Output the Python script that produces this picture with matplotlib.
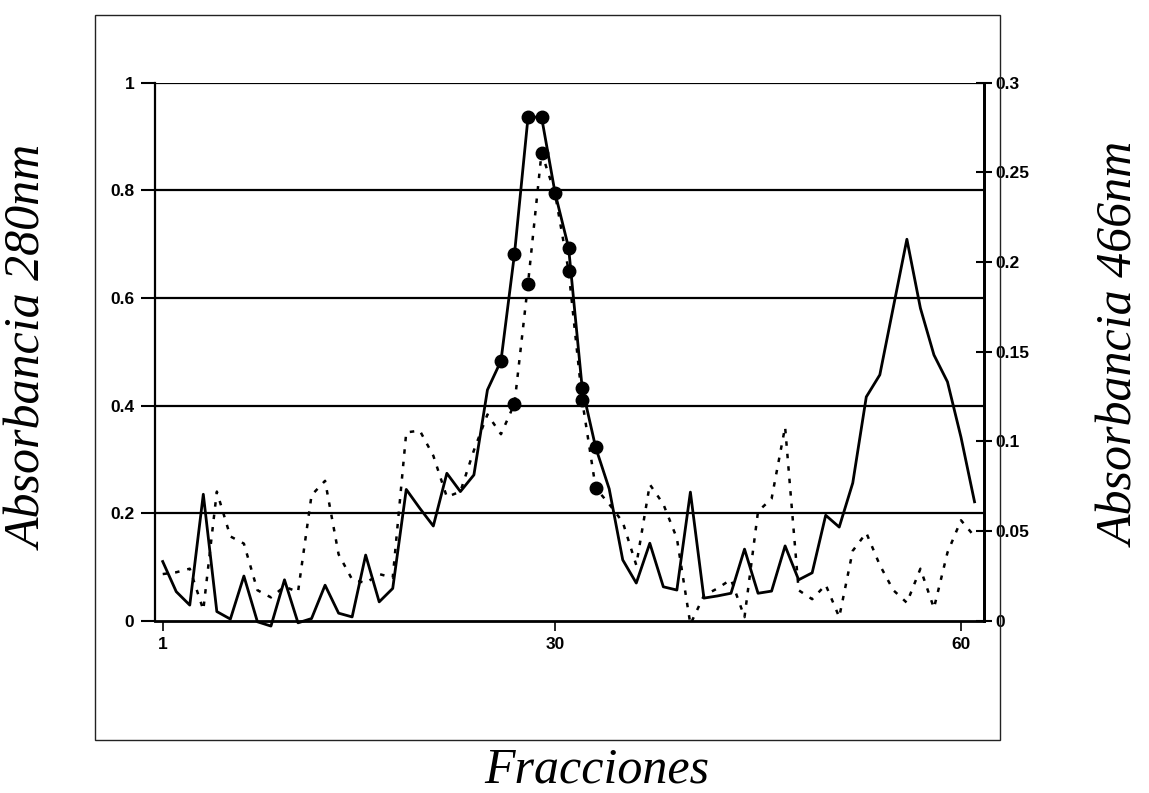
import matplotlib
matplotlib.use("Agg")
import matplotlib.pyplot as plt
from matplotlib.patches import Rectangle

# ---------------- data ----------------
fractions = list(range(1, 62))
abs280 = [0.110, 0.054, 0.029, 0.235, 0.017, 0.003, 0.083, -0.002, -0.010, 0.076,
          -0.004, 0.004, 0.066, 0.014, 0.007, 0.122, 0.035, 0.060, 0.244, 0.209,
          0.176, 0.274, 0.240, 0.271, 0.429, 0.483, 0.682, 0.936, 0.936, 0.795,
          0.693, 0.433, 0.322, 0.245, 0.113, 0.070, 0.144, 0.063, 0.057, 0.239,
          0.042, 0.046, 0.051, 0.133, 0.051, 0.055, 0.139, 0.076, 0.089, 0.196,
          0.174, 0.256, 0.416, 0.457, 0.583, 0.709, 0.581, 0.494, 0.444, 0.341,
          0.221]
abs466 = [0.026, 0.027, 0.029, 0.006, 0.072, 0.047, 0.043, 0.017, 0.013, 0.019,
          0.016, 0.070, 0.078, 0.037, 0.023, 0.021, 0.026, 0.024, 0.105, 0.106,
          0.092, 0.069, 0.072, 0.095, 0.115, 0.104, 0.121, 0.188, 0.261, 0.238,
          0.195, 0.123, 0.074, 0.065, 0.055, 0.031, 0.076, 0.065, 0.046, -0.002,
          0.014, 0.018, 0.023, 0.002, 0.061, 0.068, 0.108, 0.017, 0.012, 0.020,
          0.002, 0.039, 0.049, 0.031, 0.017, 0.010, 0.029, 0.007, 0.038, 0.056,
          0.047]
marked280 = [26, 27, 28, 29, 30, 31, 32, 33]
marked466 = [27, 28, 29, 31, 32, 33]

left_ticks = [0, 0.2, 0.4, 0.6, 0.8, 1]
left_labels = ["0", "0.2", "0.4", "0.6", "0.8", "1"]
right_ticks = [0, 0.05, 0.1, 0.15, 0.2, 0.25, 0.3]
right_labels = ["0", "0.05", "0.1", "0.15", "0.2", "0.25", "0.3"]
x_ticks = [1, 30, 60]
x_labels = ["1", "30", "60"]

# ---------------- figure ----------------
W, H = 1149, 793
fig = plt.figure(figsize=(W / 100, H / 100), dpi=100)

# outer frame
fig.patches.append(Rectangle((95 / W, 1 - 740 / H), (1000 - 95) / W, (740 - 15) / H,
                             transform=fig.transFigure, fill=False,
                             edgecolor="#222222", linewidth=1.0))

x0, x1 = 155, 984
y0, y1 = 620.7, 82.7
ax = fig.add_axes([x0 / W, 1 - y0 / H, (x1 - x0) / W, (y0 - y1) / H])
ax2 = ax.twinx()

ax.set_xlim(0.43, 61.7)
ax.set_ylim(0, 1)
ax2.set_ylim(0, 0.3)

# gridlines
for v in left_ticks[1:]:
    ax.axhline(v, color="black", linewidth=1.6, zorder=1)

tickfont = dict(family="Liberation Sans", weight="bold", size=12.5)

ax.set_yticks(left_ticks)
ax.set_yticklabels(left_labels, **tickfont)
ax.tick_params(axis="y", direction="out", length=10, width=1.5, pad=5)
ax.set_xticks(x_ticks)
ax.set_xticklabels(x_labels, **tickfont)
ax.tick_params(axis="x", direction="out", length=7, width=1.2, pad=5)

ax2.set_yticks(right_ticks)
ax2.set_yticklabels(right_labels, **tickfont)
ax2.tick_params(axis="y", direction="inout", length=12, width=1.5, pad=2)

for a in (ax, ax2):
    a.spines["top"].set_visible(False)
    a.spines["left"].set_linewidth(1.6)
    a.spines["right"].set_linewidth(2.0)
    a.spines["bottom"].set_linewidth(2.0)
ax2.spines["left"].set_visible(False)
ax2.spines["bottom"].set_visible(False)

# solid line (280 nm)
ax.plot(fractions, abs280, color="black", linewidth=2.0, zorder=5, clip_on=False)
m280 = [abs280[f - 1] for f in marked280]
ax.plot(marked280, m280, linestyle="none", marker="o", markersize=9,
        color="black", zorder=6, clip_on=False)

# dotted line (466 nm)
ax2.plot(fractions, abs466, color="black", linewidth=1.8,
         linestyle=(0, (1.8, 3.2)), zorder=5, clip_on=False)
m466 = [abs466[f - 1] for f in marked466]
ax2.plot(marked466, m466, linestyle="none", marker="o", markersize=9,
         color="black", zorder=6, clip_on=False)

labfont = dict(family="Liberation Serif", style="italic", size=36)
fig.text(30 / W, 1 - 348 / H, "Absorbancia 280nm", rotation=90,
         ha="center", va="center", **labfont)
fig.text(1122 / W, 1 - 345 / H, "Absorbancia 466nm", rotation=90,
         ha="center", va="center", **labfont)
fig.text(597 / W, 1 - 770 / H, "Fracciones", ha="center", va="center", **labfont)

fig.savefig("out.png", dpi=100)
